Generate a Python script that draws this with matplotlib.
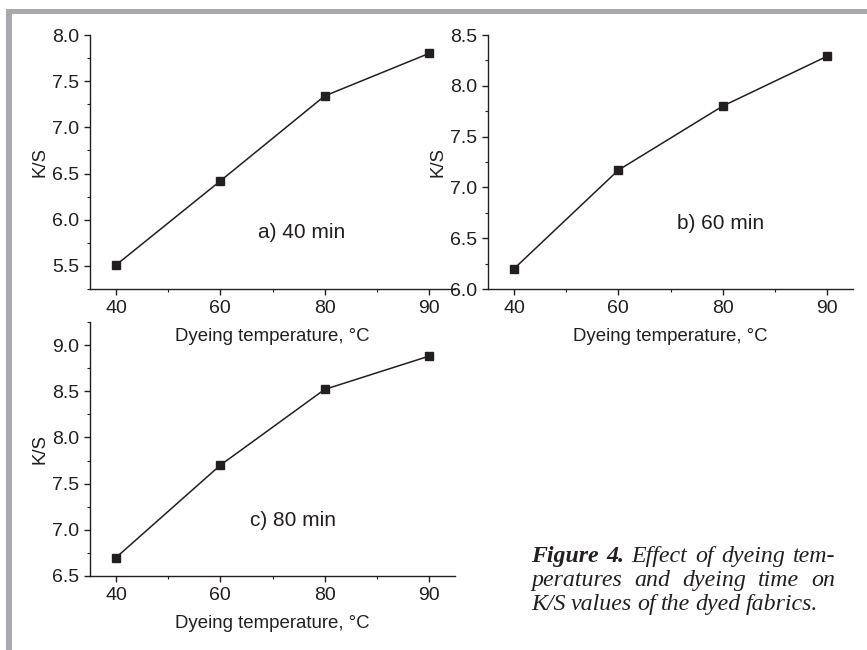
import matplotlib

matplotlib.use("Agg")
import matplotlib.pyplot as plt
from matplotlib.ticker import AutoMinorLocator, FixedLocator

plt.rcParams["font.family"] = ["Liberation Sans", "DejaVu Sans"]

# data
temperatures = ["40", "60", "80", "90"]
ks_40min = [5.51, 6.42, 7.34, 7.80]
ks_60min = [6.20, 7.17, 7.80, 8.29]
ks_80min = [6.70, 7.70, 8.52, 8.88]
panel_labels = ["a) 40 min", "b) 60 min", "c) 80 min"]

caption_lines = [
    [("Figure", "bold"), ("4.", "bold"), ("Effect", "normal"), ("of", "normal"),
     ("dyeing", "normal"), ("tem-", "normal")],
    [("peratures", "normal"), ("and", "normal"), ("dyeing", "normal"),
     ("time", "normal"), ("on", "normal")],
    [("K/S", "normal"), ("values", "normal"), ("of", "normal"), ("the", "normal"),
     ("dyed", "normal"), ("fabrics.", "normal")],
]

W, H = 867, 650
INK = "#231f20"
fig = plt.figure(figsize=(W / 100, H / 100), dpi=100)


def px_axes(left, top, right, bottom):
    return fig.add_axes([left / W, 1 - bottom / H, (right - left) / W, (bottom - top) / H])


def style(ax, values, ylim, label, label_xy):
    x = list(range(len(temperatures)))
    ax.patch.set_visible(False)
    ax.plot(x, values, color=INK, lw=1.1, marker="s", ms=6, mfc=INK, mec=INK)
    ax.set_xlim(-0.25, 3.25)
    ax.set_ylim(*ylim)
    ax.xaxis.set_major_locator(FixedLocator(x))
    ax.set_xticklabels(temperatures)
    ax.xaxis.set_minor_locator(FixedLocator([0.5, 1.5, 2.5]))
    ax.yaxis.set_major_locator(FixedLocator([v / 2 for v in range(10, 20)]))
    ax.yaxis.set_minor_locator(AutoMinorLocator(2))
    ax.yaxis.set_major_formatter(lambda v, p: f"{v:.1f}")
    for s in ("top", "right"):
        ax.spines[s].set_visible(False)
    for s in ("left", "bottom"):
        ax.spines[s].set_linewidth(1.0)
        ax.spines[s].set_color(INK)
    ax.tick_params(which="major", direction="out", length=4, width=1.0,
                   labelsize=14, pad=4, colors=INK)
    ax.tick_params(which="minor", direction="out", length=2.5, width=0.8, colors=INK)
    ax.set_xlabel("Dyeing temperature, \u00b0C", fontsize=13.4, color=INK, labelpad=8)
    ax.set_ylabel("K/S", fontsize=13.4, color=INK, labelpad=2)
    ax.text(*label_xy, label, fontsize=15, color=INK, ha="center", va="center")


ax_a = px_axes(90, 35, 455, 289)
style(ax_a, ks_40min, (5.25, 8.0), panel_labels[0], (1.78, 5.86))
ax_b = px_axes(488, 35, 853, 289)
style(ax_b, ks_60min, (6.0, 8.5), panel_labels[1], (1.98, 6.64))
ax_c = px_axes(90, 322, 455, 576)
style(ax_c, ks_80min, (6.5, 9.25), panel_labels[2], (1.70, 7.10))

# gray frame on top and left
border = "#a7a9ac"
fig.patches.append(plt.Rectangle((6 / W, 1 - 14 / H), 1, 5 / H, transform=fig.transFigure,
                                 color=border, lw=0))
fig.patches.append(plt.Rectangle((6 / W, 0), 5.5 / W, 1 - 9 / H, transform=fig.transFigure,
                                 color=border, lw=0))

# justified caption
renderer = fig.canvas.get_renderer()
cap_left, cap_right = 531, 835
baselines = [562, 586, 610]
cap_font = dict(family=["Liberation Serif", "DejaVu Serif"], style="italic", size=17.2,
                color=INK)
for i, (words, base) in enumerate(zip(caption_lines, baselines)):
    texts = [fig.text(0, 1 - base / H, w, weight=wt, va="baseline", **cap_font)
             for w, wt in words]
    widths = [t.get_window_extent(renderer).width for t in texts]
    if i < len(caption_lines) - 1:
        gap = (cap_right - cap_left - sum(widths)) / (len(words) - 1)
    else:
        gap = 5.2
    x = cap_left
    for t, w in zip(texts, widths):
        t.set_x(x / W)
        x += w + gap

fig.savefig("out.png", dpi=100)
